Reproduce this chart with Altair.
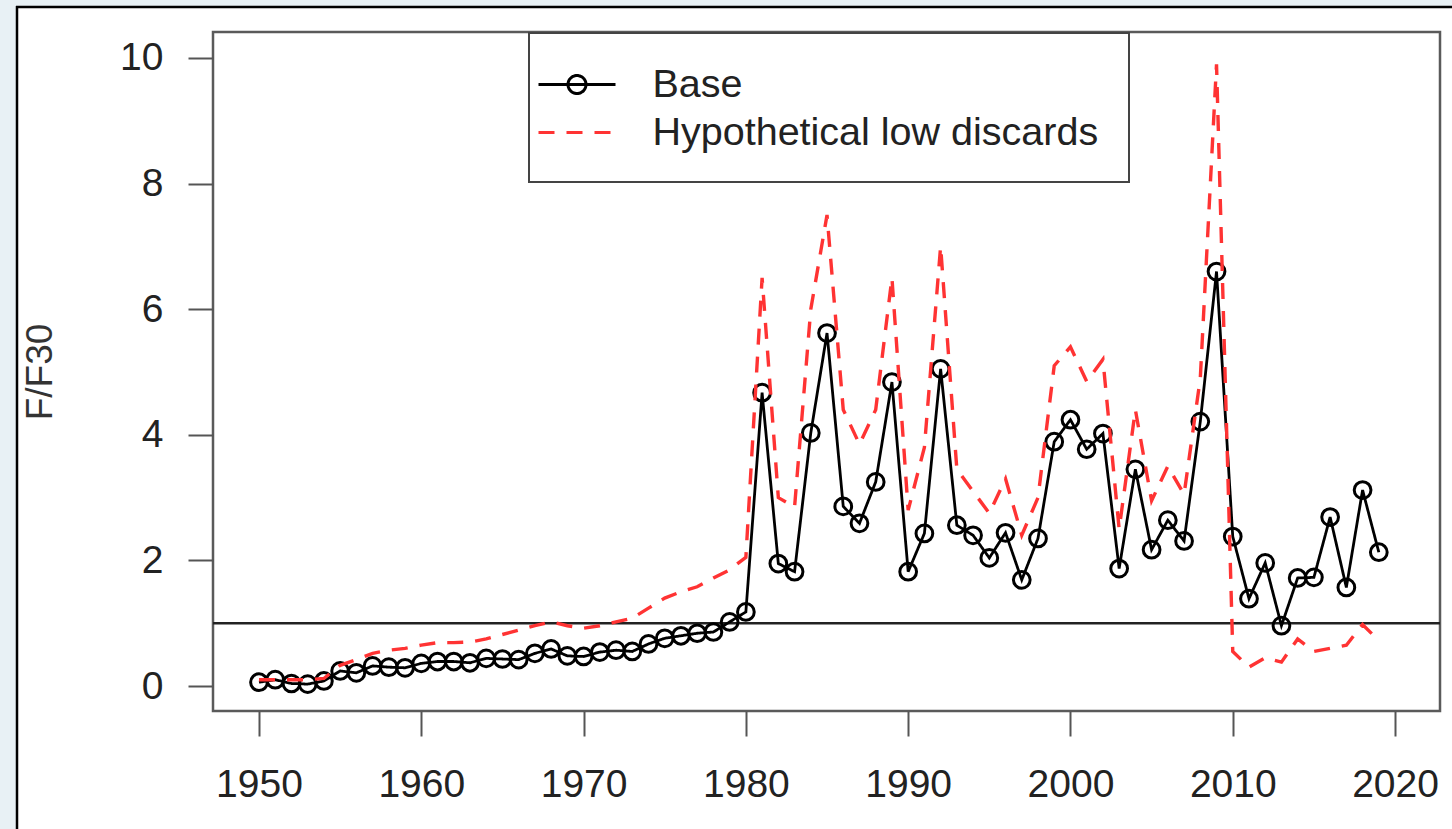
import altair as alt
import pandas as pd

# ---------------- data ----------------
years = list(range(1950, 2020))
base = [0.06, 0.10, 0.04, 0.03, 0.08, 0.24, 0.21, 0.32, 0.30, 0.29,
        0.36, 0.39, 0.39, 0.37, 0.44, 0.43, 0.42, 0.52, 0.59, 0.48,
        0.47, 0.54, 0.57, 0.55, 0.67, 0.76, 0.80, 0.84, 0.86, 1.02,
        1.18, 4.67, 1.95, 1.82, 4.03, 5.62, 2.86, 2.59, 3.25, 4.84,
        1.82, 2.43, 5.05, 2.56, 2.40, 2.04, 2.44, 1.69, 2.35, 3.89,
        4.24, 3.77, 4.02, 1.87, 3.45, 2.17, 2.64, 2.31, 4.21, 6.60,
        2.38, 1.39, 1.96, 0.96, 1.72, 1.73, 2.69, 1.57, 3.12, 2.13]
low = [0.10, 0.10, 0.10, 0.10, 0.12, 0.33, 0.42, 0.52, 0.57, 0.60,
       0.65, 0.69, 0.69, 0.70, 0.75, 0.82, 0.89, 0.96, 1.02, 0.96,
       0.92, 0.96, 1.02, 1.08, 1.24, 1.40, 1.50, 1.58, 1.72, 1.85,
       2.05, 6.50, 3.00, 2.85, 6.00, 7.50, 4.40, 3.85, 4.40, 6.50,
       2.80, 3.80, 7.00, 3.45, 3.10, 2.75, 3.30, 2.40, 3.00, 5.10,
       5.40, 4.85, 5.20, 2.50, 4.40, 2.95, 3.50, 3.05, 4.90, 9.90,
       0.55, 0.30, 0.45, 0.38, 0.75, 0.55, 0.60, 0.65, 0.98, 0.72]
series = ["Base", "Hypothetical low discards"]
reference_level = 1
x_ticks = [1950, 1960, 1970, 1980, 1990, 2000, 2010, 2020]
y_ticks = [0, 2, 4, 6, 8, 10]

# ---------------- style ----------------
FONT = "Liberation Sans"
BLUE = "#e8f1f5"
RED = "#ff3333"
colors = ["#000000", RED]
dashes = [[1, 0], [16, 12]]
sym_base = "M-1.925,0H1.925M0.45,0A0.45,0.45,0,1,1,-0.45,0A0.45,0.45,0,1,1,0.45,0"
sym_low = "M-1.925,0H1.925"

df_base = pd.DataFrame({"year": years, "value": base, "series": series[0]})
df_low = pd.DataFrame({"year": years, "value": low, "series": series[1]})
df_leg = pd.DataFrame({"series": series})
one = alt.Data(values=[{"a": 1}])

xscale = alt.Scale(domain=[1947.166, 2022.77], nice=False, zero=False)
yscale = alt.Scale(domain=[-0.398, 10.414], nice=False, zero=False)

xaxis = alt.Axis(values=x_ticks, format="d", title=None, domain=False, grid=False,
                 tickSize=25, tickWidth=2, tickColor="#555",
                 labelFont=FONT, labelFontSize=39, labelColor="#222",
                 labelPadding=29, labelFlush=False)
yaxis = alt.Axis(values=y_ticks, format="d", title="F/F30", domain=False, grid=False,
                 tickSize=25, tickWidth=2, tickColor="#555",
                 labelFont=FONT, labelFontSize=39, labelColor="#222",
                 labelPadding=25, titleFont=FONT, titleFontSize=37,
                 titleFontWeight="normal", titleColor="#333", titlePadding=60)

leg = alt.Legend(title=None, orient="none", legendX=316, legendY=1,
                 direction="vertical", padding=30, strokeColor="#444",
                 fillColor="white", labelFont=FONT, labelFontSize=39.5,
                 labelColor="#222", labelOffset=54, labelLimit=700,
                 symbolSize=1600, symbolOffset=-3.5,
                 rowPadding=7, symbolStrokeWidth=3)

color_enc = alt.Color("series:N", scale=alt.Scale(domain=series, range=colors), legend=leg)
dash_enc = alt.StrokeDash("series:N", scale=alt.Scale(domain=series, range=dashes), legend=leg)
shape_enc = alt.Shape("series:N", scale=alt.Scale(domain=series, range=[sym_base, sym_low]), legend=leg)

X = alt.X("year:Q", scale=xscale, axis=xaxis)
Y = alt.Y("value:Q", scale=yscale, axis=yaxis)

# decorative page panel (outside plot area)
left_strip = alt.Chart(one).mark_rect(color=BLUE).encode(
    x=alt.value(-213), x2=alt.value(-197), y=alt.value(-32), y2=alt.value(797))
top_strip = alt.Chart(one).mark_rect(color=BLUE).encode(
    x=alt.value(-213), x2=alt.value(1239), y=alt.value(-32), y2=alt.value(-26))
border_v = alt.Chart(one).mark_rule(color="black", strokeWidth=2.5).encode(
    x=alt.value(-196), y=alt.value(-26), y2=alt.value(797))
border_h = alt.Chart(one).mark_rule(color="black", strokeWidth=2.5).encode(
    x=alt.value(-197), x2=alt.value(1239), y=alt.value(-25))

hline = alt.Chart(one).mark_rule(color="#222", strokeWidth=2.5).encode(
    y=alt.Y(datum=reference_level, scale=yscale, axis=yaxis))

line_base = alt.Chart(df_base).mark_line(strokeWidth=2.8).encode(
    x=X, y=Y, color=color_enc, strokeDash=dash_enc)
pts_base = alt.Chart(df_base).mark_point(shape="circle", filled=False, color="black",
                                         size=280, strokeWidth=3, opacity=1).encode(x=X, y=Y)
line_low = alt.Chart(df_low).mark_line(strokeWidth=3.4).encode(
    x=X, y=Y, color=color_enc, strokeDash=dash_enc)
legend_carrier = alt.Chart(df_leg).transform_filter("false").mark_point(
    filled=False, strokeWidth=3, opacity=1).encode(
    shape=shape_enc, color=color_enc, strokeDash=dash_enc)

chart = alt.layer(left_strip, top_strip, border_v, border_h, hline,
                  line_base, pts_base, line_low, legend_carrier).properties(
    width=1227, height=679, background="white",
    autosize=alt.AutoSizeParams(type="none"),
    padding={"left": 213, "top": 32, "right": 12, "bottom": 118},
).configure_view(stroke="#5a5a5a", strokeWidth=2.5).configure_legend(strokeWidth=2)

chart.save("out.html", embed_options={"renderer": "svg", "actions": False})
